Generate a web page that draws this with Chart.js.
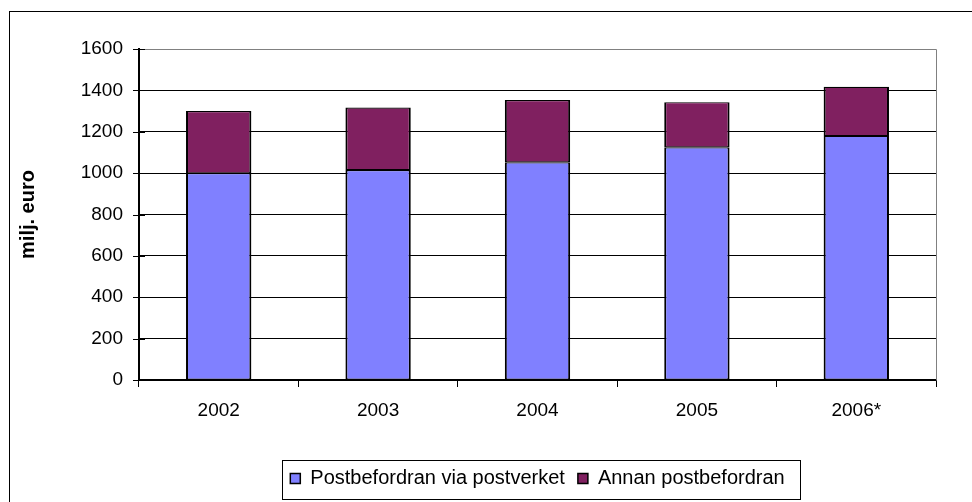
<!DOCTYPE html>
<html>
<head>
<meta charset="utf-8">
<script src="https://cdn.jsdelivr.net/npm/chart.js@4"></script>
<style>
  html, body { margin: 0; padding: 0; background: #fff; }
  #wrap { position: relative; width: 972px; height: 502px; overflow: hidden; }
  #frame { position: absolute; left: 9px; top: 11px; width: 2000px; height: 2000px; border: 1px solid #000; pointer-events: none; }
  canvas { position: absolute; left: 0; top: 0; }
</style>
</head>
<body>
<div id="wrap">
  <canvas id="chart" width="972" height="502"></canvas>
  <div id="frame"></div>
</div>
<script>
const years = ["2002", "2003", "2004", "2005", "2006*"];
const postverket = [1000, 1015, 1052, 1125, 1180];
const annan = [300, 302, 301, 218, 237];
const seriesNames = ["Postbefordran via postverket", "Annan postbefordran"];

const FONT = "'Liberation Sans', Arial, sans-serif";
const barBorder = { left: 2, right: 2, top: 1.2, bottom: 1 };

// plot frame, y tick marks crossing the axis, box round the legend
const decorations = {
  id: "decorations",
  afterDraw(chart) {
    const { ctx, chartArea: a } = chart;
    const y = chart.scales.y;
    ctx.save();
    ctx.strokeStyle = "#808080";
    ctx.lineWidth = 1;
    ctx.beginPath();
    ctx.moveTo(a.left, a.top + 0.5);
    ctx.lineTo(a.right + 0.5, a.top + 0.5);
    ctx.lineTo(a.right + 0.5, a.bottom);
    ctx.stroke();

    ctx.strokeStyle = "#000";
    y.ticks.forEach((t) => {
      const py = Math.round(y.getPixelForValue(t.value)) + 0.5;
      const len = t.value % 200 === 0 ? 6 : 4;
      ctx.beginPath();
      ctx.moveTo(a.left - len, py);
      ctx.lineTo(a.left + len, py);
      ctx.stroke();
    });

    const boxes = chart.legend.legendHitBoxes;
    if (boxes && boxes.length) {
      const first = boxes[0];
      const last = boxes[boxes.length - 1];
      const left = Math.round(first.left - 8) + 0.5;
      const right = Math.round(last.left + last.width + 15) + 0.5;
      const top = Math.round(first.top - 9) + 0.5;
      ctx.strokeStyle = "#000";
      ctx.strokeRect(left, top, right - left, 39);
    }
    ctx.restore();
  },
};

new Chart(document.getElementById("chart"), {
  type: "bar",
  data: {
    labels: years,
    datasets: [
      {
        label: seriesNames[0],
        data: postverket,
        backgroundColor: "#8080ff",
        borderColor: "#000",
        borderWidth: barBorder,
        borderSkipped: false,
        barPercentage: 0.41,
        categoryPercentage: 1,
      },
      {
        label: seriesNames[1],
        data: annan,
        backgroundColor: "#802060",
        borderColor: "#000",
        borderWidth: barBorder,
        borderSkipped: false,
        barPercentage: 0.41,
        categoryPercentage: 1,
      },
    ],
  },
  options: {
    responsive: false,
    animation: false,
    events: [],
    layout: { padding: { left: 0, right: 36, top: 49, bottom: 3.5 } },
    plugins: {
      tooltip: { enabled: false },
      legend: {
        position: "bottom",
        fullSize: false,
        labels: {
          color: "#000",
          font: { family: FONT, size: 20 },
          boxWidth: 10,
          boxHeight: 10,
          padding: 13,
          generateLabels: (chart) =>
            Chart.defaults.plugins.legend.labels.generateLabels(chart).map((l) => ({ ...l, lineWidth: 1.5 })),
        },
      },
    },
    scales: {
      x: {
        stacked: true,
        afterFit: (s) => { s.height = 75.5; },
        border: { color: "#000", width: 1.5 },
        grid: { offset: true, drawOnChartArea: false, color: "#000", tickLength: 7 },
        ticks: { color: "#000", padding: 12, font: { family: FONT, size: 19 } },
      },
      y: {
        stacked: true,
        min: 0,
        max: 1600,
        afterFit: (s) => { s.width = 139; },
        border: { color: "#000", width: 2 },
        grid: {
          drawTicks: false,
          color: (c) => {
            const v = c.tick ? c.tick.value : 0;
            if (v === 1600) return "#808080";
            return v % 200 === 0 ? "#000" : "rgba(0,0,0,0)";
          },
        },
        ticks: {
          stepSize: 100,
          padding: 16,
          color: "#000",
          font: { family: FONT, size: 19 },
          callback: (v) => (v % 200 === 0 ? v : ""),
        },
        title: {
          display: true,
          text: "milj. euro",
          color: "#000",
          font: { family: FONT, size: 20, weight: "bold" },
          padding: { top: 16, bottom: 0 },
        },
      },
    },
  },
  plugins: [decorations],
});
</script>
</body>
</html>
